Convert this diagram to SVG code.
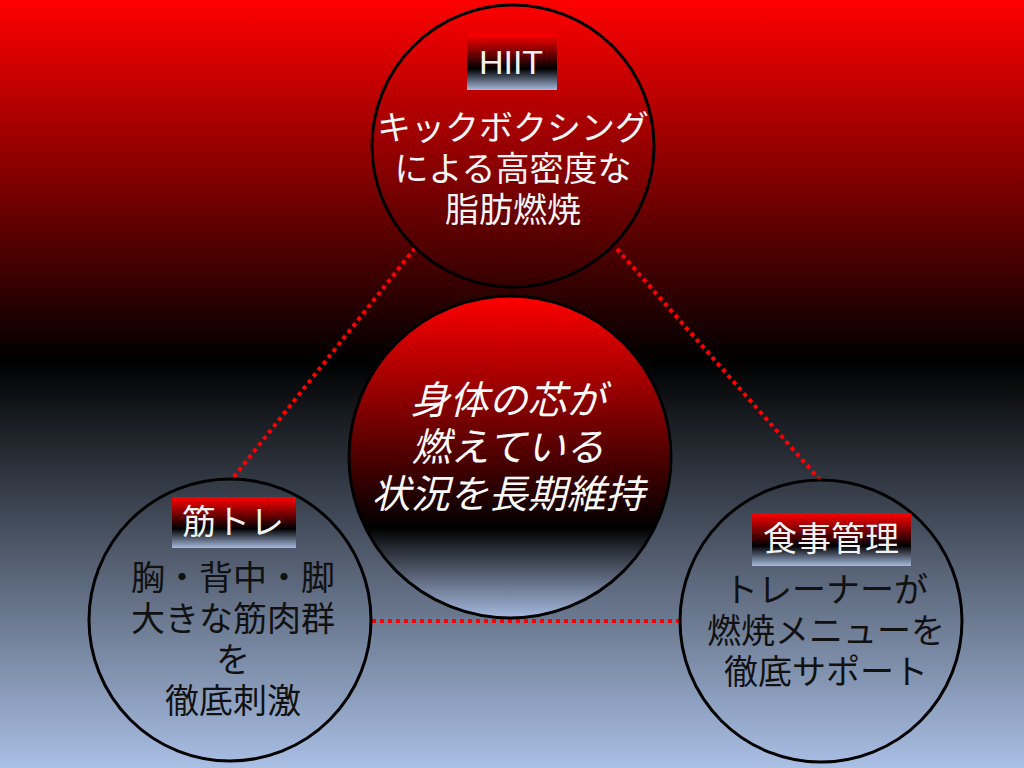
<svg xmlns="http://www.w3.org/2000/svg" width="1024" height="768" viewBox="0 0 1024 768">
  <defs>
    <linearGradient id="bg" x1="0" y1="0" x2="0" y2="1">
      <stop offset="0" stop-color="#ff0000"/>
      <stop offset="0.47" stop-color="#000000"/>
      <stop offset="1" stop-color="#a9bfe4"/>
    </linearGradient>
    <linearGradient id="core" x1="0" y1="0" x2="0" y2="1">
      <stop offset="0" stop-color="#ff0000"/>
      <stop offset="0.72" stop-color="#000000"/>
      <stop offset="1" stop-color="#a6badf"/>
    </linearGradient>
    <linearGradient id="tag" x1="0" y1="0" x2="0" y2="1">
      <stop offset="0" stop-color="#ff0000"/>
      <stop offset="0.62" stop-color="#000000"/>
      <stop offset="1" stop-color="#a6badf"/>
    </linearGradient>
    <style>
      .ring { fill: none; stroke: #000; stroke-width: 3; }
      .tag { fill: url(#tag); }
      .tagtxt { fill: #f2f2f2; font-family: "Liberation Sans", "Noto Sans CJK JP", sans-serif; font-size: 34px; text-anchor: middle; }
      .lt { fill: #f5f5f5; font-family: "Noto Sans CJK JP", sans-serif; font-size: 34px; text-anchor: middle; }
      .dk { fill: #111; font-family: "Noto Sans CJK JP", sans-serif; font-size: 34px; text-anchor: middle; }
      .core { fill: #fafafa; font-family: "Noto Sans CJK JP", sans-serif; font-size: 39px; font-style: italic; text-anchor: middle; }
      .link { stroke: #ff0000; stroke-width: 4; stroke-dasharray: 4 4; fill: none; }
    </style>
  </defs>

  <rect width="1024" height="768" fill="url(#bg)"/>

  <!-- dotted connectors between the outer circles -->
  <g id="connectors">
    <line class="link" x1="415" y1="248" x2="233" y2="478"/>
    <line class="link" x1="617" y1="249" x2="820" y2="480"/>
    <line class="link" x1="372" y1="621" x2="680" y2="621"/>
  </g>

  <g id="hiit">
    <circle class="ring" cx="513" cy="146" r="141"/>
    <rect class="tag" x="467" y="34" width="90" height="56"/>
    <text class="tagtxt" x="511" y="74">HIIT</text>
    <text class="lt" x="513" y="140">キックボクシング</text>
    <text class="lt" x="513" y="181">による高密度な</text>
    <text class="lt" x="513" y="222">脂肪燃焼</text>
  </g>

  <g id="core-node">
    <circle cx="510" cy="457" r="161" fill="url(#core)" stroke="#000" stroke-width="3"/>
    <text class="core" x="508" y="414">身体の芯が</text>
    <text class="core" x="508" y="461">燃えている</text>
    <text class="core" x="508" y="508">状況を長期維持</text>
  </g>

  <g id="strength">
    <circle class="ring" cx="230" cy="620" r="141"/>
    <rect class="tag" x="172" y="497" width="124" height="51"/>
    <text class="tagtxt" x="233" y="534">筋トレ</text>
    <text class="dk" x="233" y="590">胸・背中・脚</text>
    <text class="dk" x="233" y="631">大きな筋肉群</text>
    <text class="dk" x="233" y="672">を</text>
    <text class="dk" x="233" y="713">徹底刺激</text>
  </g>

  <g id="diet">
    <circle class="ring" cx="821" cy="621" r="141"/>
    <rect class="tag" x="752" y="513" width="159" height="53"/>
    <text class="tagtxt" x="831" y="551">食事管理</text>
    <text class="dk" x="826" y="602">トレーナーが</text>
    <text class="dk" x="826" y="643">燃焼メニューを</text>
    <text class="dk" x="826" y="684">徹底サポート</text>
  </g>
</svg>
